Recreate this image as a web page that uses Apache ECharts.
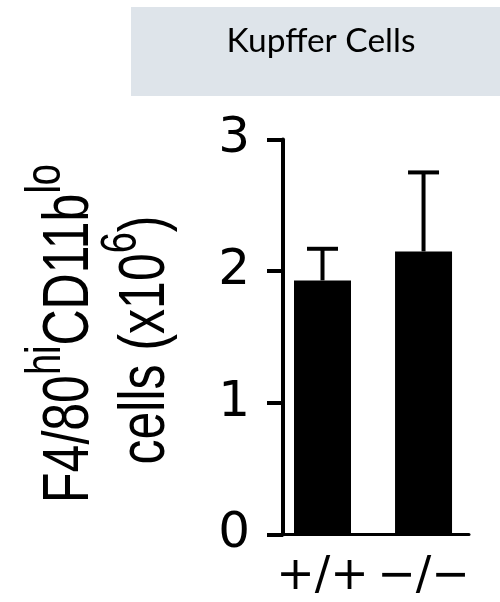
<!DOCTYPE html>
<html>
<head>
<meta charset="utf-8">
<script src="https://cdn.jsdelivr.net/npm/echarts@6/dist/echarts.min.js"></script>
<style>
  html, body { margin: 0; padding: 0; background: #fff; }
  #chart { width: 500px; height: 602px; }
</style>
</head>
<body>
<div id="chart"></div>
<script>
// Genotype groups on the x axis
const genotypes = ['+/+', '\u2212/\u2212'];
// Mean cell counts (x10^6) and upper error (SD) per genotype
const meanCells = [1.93, 2.15];
const errCells = [0.24, 0.60];
// Y axis tick values
const yTicks = [0, 1, 2, 3];
const panelTitle = 'Kupffer Cells';

const chart = echarts.init(document.getElementById('chart'), null, { renderer: 'canvas' });
const xPositions = genotypes.map((g, i) => i);

// Main text and superscript styles for the y axis title
const supRich = {
  m: { fontFamily: 'Liberation Sans', fontSize: 50, lineHeight: 75, fill: '#000' },
  s: { fontFamily: 'Liberation Sans', fontSize: 38, lineHeight: 38, verticalAlign: 'top', fill: '#000' }
};

const option = {
  animation: false,
  grid: { left: 283, right: 31, top: 139.5, bottom: 67.5 },
  xAxis: {
    type: 'value',
    min: -0.391,
    max: 1.45,
    axisLine: { show: true, onZero: false, lineStyle: { color: '#000', width: 3 } },
    axisTick: { show: false },
    splitLine: { show: false },
    axisLabel: {
      customValues: xPositions,
      formatter: v => genotypes[Math.round(v)],
      color: '#000',
      fontFamily: 'DejaVu Sans',
      fontSize: 46,
      margin: 20
    }
  },
  yAxis: {
    type: 'value',
    min: yTicks[0],
    max: yTicks[yTicks.length - 1],
    interval: 1,
    axisLine: { show: true, onZero: false, lineStyle: { color: '#000', width: 4 } },
    axisTick: { show: true, length: 16, lineStyle: { color: '#000', width: 4 } },
    splitLine: { show: false },
    axisLabel: { color: '#000', fontFamily: 'DejaVu Sans', fontSize: 50, margin: 33 }
  },
  series: [
    {
      type: 'bar',
      data: meanCells.map((v, i) => [i, v]),
      barWidth: 57,
      itemStyle: { color: '#000' }
    },
    {
      type: 'custom',
      z: 3,
      data: meanCells.map((v, i) => [i, v, v + errCells[i]]),
      renderItem: (params, api) => {
        const x = api.value(0);
        const lo = api.coord([x, api.value(1)]);
        const hi = api.coord([x, api.value(2)]);
        const half = 15.5;
        return {
          type: 'group',
          children: [
            { type: 'line', shape: { x1: lo[0], y1: lo[1], x2: hi[0], y2: hi[1] }, style: { stroke: '#000', lineWidth: 4 } },
            { type: 'line', shape: { x1: hi[0] - half, y1: hi[1], x2: hi[0] + half, y2: hi[1] }, style: { stroke: '#000', lineWidth: 4 } }
          ]
        };
      }
    }
  ],
  graphic: [
    { type: 'rect', left: 131, top: 7, shape: { width: 369, height: 89 }, style: { fill: '#DEE4EA' } },
    {
      type: 'text', x: 321, y: 41,
      style: { text: panelTitle, fontFamily: 'Lato', fontSize: 33.5, fill: '#000', align: 'center', verticalAlign: 'middle' }
    },
    {
      type: 'text', x: 70, y: 333.5, rotation: Math.PI / 2, scaleY: 1.3,
      style: { text: '{m|F4/80}{s|hi}{m|CD11b}{s|lo}', rich: supRich, align: 'center', verticalAlign: 'middle' }
    },
    {
      type: 'text', x: 146, y: 340, rotation: Math.PI / 2, scaleY: 1.3,
      style: { text: '{m|cells (x10}{s|6}{m|)}', rich: supRich, align: 'center', verticalAlign: 'middle' }
    }
  ]
};

chart.setOption(option);
</script>
</body>
</html>
